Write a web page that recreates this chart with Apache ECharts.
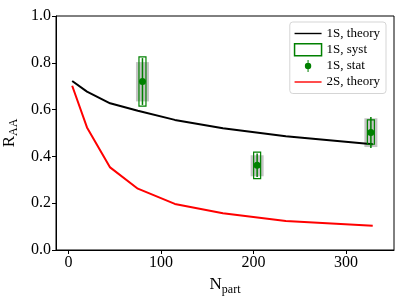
<!DOCTYPE html>
<html><head><meta charset="utf-8">
<script src="https://cdn.jsdelivr.net/npm/echarts@6/dist/echarts.min.js"></script>
<style>html,body{margin:0;padding:0;background:#fff}#c{width:406px;height:304px}</style>
</head><body><div id="c"></div>
<script>
// Theory curves
const theoryNpart = [4, 20, 45, 75, 115, 167, 235, 329];
const theory1S = [0.722, 0.677, 0.627, 0.595, 0.556, 0.520, 0.486, 0.452];
const theory2S = [0.702, 0.524, 0.353, 0.262, 0.197, 0.157, 0.124, 0.104];
// 1S measurements
const dataNpart = [80, 204, 327];
const dataRAA = [0.72, 0.362, 0.502];
const statErr = [0.10, 0.05, 0.066];
const systLow = [0.615, 0.305, 0.452];
const systHigh = [0.825, 0.418, 0.556];
const grayLow = [0.635, 0.315, 0.440];
const grayHigh = [0.803, 0.405, 0.563];
const xTicks = [0, 100, 200, 300];
const yTicks = [0, 0.2, 0.4, 0.6, 0.8, 1.0];

const GREEN = '#008000';
const FONT = 'Liberation Serif';

const chart = echarts.init(document.getElementById('c'), null, {renderer: 'canvas'});

function rectItem(halfPx, style) {
  return function (params, api) {
    const x = api.value(0), lo = api.value(1), hi = api.value(2);
    const pLo = api.coord([x, lo]);
    const pHi = api.coord([x, hi]);
    return {
      type: 'rect',
      shape: {x: pLo[0] - halfPx, y: pHi[1], width: halfPx * 2, height: pLo[1] - pHi[1]},
      style: style
    };
  };
}

const option = {
  animation: false,
  textStyle: {fontFamily: FONT},
  grid: {left: 56, right: 12, top: 16, bottom: 54, outerBoundsMode: 'none', containLabel: false,
    show: true, borderColor: '#000', borderWidth: 1, backgroundColor: 'transparent'},
  legend: {
    orient: 'vertical', right: 20, top: 22,
    backgroundColor: '#fff', borderColor: '#d5d5d5', borderWidth: 1, borderRadius: 3,
    padding: [5, 6, 5, 4], itemGap: 3, itemWidth: 27, itemHeight: 12,
    textStyle: {fontFamily: FONT, fontSize: 13, color: '#000'},
    data: [
      {name: '1S, theory', icon: 'path://M0,5.3 L27,5.3 L27,6.7 L0,6.7 Z', itemStyle: {color: '#000'}},
      {name: '1S, syst', icon: 'rect', itemStyle: {color: 'rgba(0,0,0,0)', borderColor: GREEN, borderWidth: 1.5}},
      {name: '1S, stat', icon: 'path://M13,0 L14,0 L14,12 L13,12 Z M13.5,2.8 A3.2,3.2 0 1 1 13.49,2.8 Z', itemStyle: {color: GREEN}},
      {name: '2S, theory', icon: 'path://M0,5.3 L27,5.3 L27,6.7 L0,6.7 Z', itemStyle: {color: '#f00'}}
    ]
  },
  xAxis: {
    type: 'value', min: -13.5, max: 352,
    name: '{m|N}{s|part}', nameLocation: 'middle', nameGap: 24,
    nameTextStyle: {rich: {
      m: {fontFamily: FONT, fontSize: 17, color: '#000', verticalAlign: 'top', lineHeight: 20},
      s: {fontFamily: FONT, fontSize: 12, color: '#000', verticalAlign: 'bottom', lineHeight: 20}
    }},
    axisLine: {show: true, onZero: false, lineStyle: {color: '#000', width: 1}},
    axisTick: {show: true, length: 4, inside: false, customValues: xTicks, lineStyle: {color: '#000'}},
    axisLabel: {customValues: xTicks, fontFamily: FONT, fontSize: 16, color: '#000', margin: 5},
    splitLine: {show: false}
  },
  yAxis: {
    type: 'value', min: 0, max: 1, interval: 0.2,
    name: '{m|R}{s|AA}', nameLocation: 'middle', nameGap: 34, nameRotate: 90,
    nameTextStyle: {rich: {
      m: {fontFamily: FONT, fontSize: 17, color: '#000', verticalAlign: 'top', lineHeight: 19},
      s: {fontFamily: FONT, fontSize: 12, color: '#000', verticalAlign: 'bottom', lineHeight: 19}
    }},
    axisLine: {show: true, onZero: false, lineStyle: {color: '#000', width: 1}},
    axisTick: {show: true, length: 4, inside: false, customValues: yTicks, lineStyle: {color: '#000'}},
    axisLabel: {customValues: yTicks, fontFamily: FONT, fontSize: 16, color: '#000', margin: 5,
      formatter: v => v.toFixed(1)},
    splitLine: {show: false}
  },
  series: [
    {
      name: 'gray', type: 'custom', z: 1,
      data: dataNpart.map((x, i) => [x, grayLow[i], grayHigh[i]]),
      renderItem: rectItem(6.5, {fill: 'rgba(150,150,150,0.55)', stroke: null})
    },
    {
      name: '1S, theory', type: 'line', z: 3, symbol: 'none',
      lineStyle: {color: '#000', width: 2}, itemStyle: {color: '#000'},
      data: theoryNpart.map((x, i) => [x, theory1S[i]])
    },
    {
      name: '2S, theory', type: 'line', z: 3, symbol: 'none',
      lineStyle: {color: '#f00', width: 2}, itemStyle: {color: '#f00'},
      data: theoryNpart.map((x, i) => [x, theory2S[i]])
    },
    {
      name: '1S, syst', type: 'custom', z: 4,
      itemStyle: {color: GREEN},
      data: dataNpart.map((x, i) => [x, systLow[i], systHigh[i]]),
      renderItem: rectItem(3.5, {fill: 'none', stroke: GREEN, lineWidth: 1.2})
    },
    {
      name: '1S, stat', type: 'custom', z: 5,
      itemStyle: {color: GREEN},
      data: dataNpart.map((x, i) => [x, dataRAA[i], statErr[i]]),
      renderItem: function (params, api) {
        const x = api.value(0), y = api.value(1), e = api.value(2);
        const pc = api.coord([x, y]);
        const pt = api.coord([x, y + e]);
        const pb = api.coord([x, y - e]);
        return {
          type: 'group',
          children: [
            {type: 'line', shape: {x1: pc[0], y1: pt[1], x2: pc[0], y2: pb[1]}, style: {stroke: GREEN, lineWidth: 1.5}},
            {type: 'circle', shape: {cx: pc[0], cy: pc[1], r: 3.5}, style: {fill: GREEN}}
          ]
        };
      }
    }
  ]
};
chart.setOption(option);
</script>
</body></html>
